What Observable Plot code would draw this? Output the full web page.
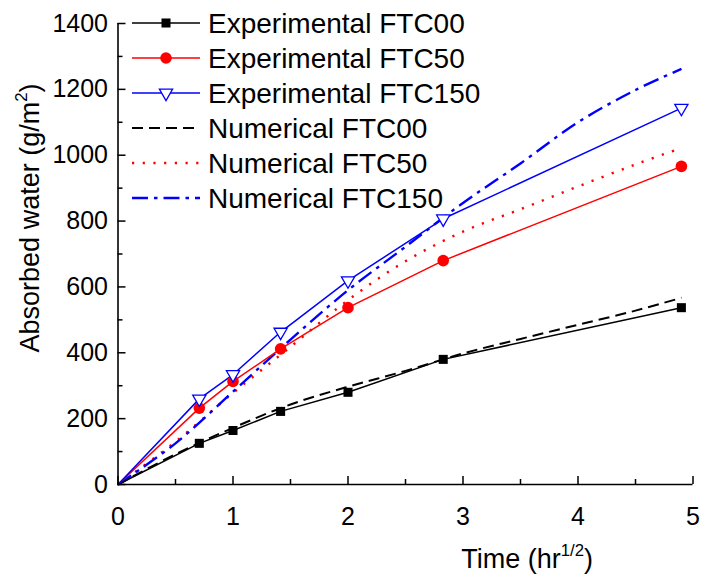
<!DOCTYPE html>
<html>
<head>
<meta charset="utf-8">
<script src="https://cdn.jsdelivr.net/npm/d3@7"></script>
<script src="https://cdn.jsdelivr.net/npm/@observablehq/plot@0.6"></script>
<style>
  body { margin: 0; background: #fff; }
  #wrap { position: relative; width: 703px; height: 580px; font-family: "Liberation Sans", Arial, sans-serif; }
  #wrap svg { display: block; }
  #legend { position: absolute; left: 0; top: 0; }
</style>
</head>
<body>
<div id="wrap"></div>
<script>
// ---- data ----
const expTime   = [0, 0.707, 1, 1.414, 2, 2.828, 4.899];
const expFTC00  = [0, 125, 164, 222, 280, 380, 537];
const expFTC50  = [0, 232, 313, 412, 537, 680, 966];
const expFTC150 = [0, 260, 334, 463, 619, 807, 1143];

const numTime   = [0, 0.5, 1, 1.5, 2, 2.5, 3, 3.5, 4, 4.5, 4.9];
const numFTC00  = [0, 92, 172, 243, 297, 345, 398, 442, 485, 528, 567];
const numFTC50  = [0, 130, 278, 418, 560, 678, 768, 836, 905, 972, 1022];
const numFTC150 = [0, 125, 282, 440, 590, 722, 855, 975, 1100, 1198, 1262];

const xTicks      = [0, 1, 2, 3, 4, 5];
const xMinorTicks = [0.5, 1.5, 2.5, 3.5, 4.5];
const yTicks      = [0, 200, 400, 600, 800, 1000, 1200, 1400];
const yMinorTicks = [100, 300, 500, 700, 900, 1100, 1300];

const seriesNames = ["Experimental FTC00", "Experimental FTC50", "Experimental FTC150",
                     "Numerical FTC00", "Numerical FTC50", "Numerical FTC150"];
const seriesColors = ["#000000", "#ff0000", "#0000ff", "#000000", "#ff0000", "#0000ff"];
const xLabel = "Time (hr1/2)";
const yLabel = "Absorbed water (g/m2)";

// ---- styles ----
const FONT = "'Liberation Sans', Arial, sans-serif";
const styles = [
  {dash: null, width: 1.5, symbol: "square", r: 5.1, fill: "#000000", stroke: "none"},
  {dash: null, width: 1.5, symbol: "circle", r: 5.8, fill: "#ff0000", stroke: "none"},
  {dash: null, width: 1.5, symbol: "triangle", r: 4.9, fill: "#ffffff", stroke: "#0000ff", rotate: 180},
  {dash: "11,6", width: 2, symbol: null},
  {dash: "2.2,8.5", width: 2.4, symbol: null},
  {dash: "16,6,3.5,6", width: 2.4, symbol: null}
];

const rows = (ts, vs) => ts.map((t, i) => ({t, v: vs[i]}));
const expSets = [rows(expTime, expFTC00), rows(expTime, expFTC50), rows(expTime, expFTC150)];
const numSets = [rows(numTime, numFTC00), rows(numTime, numFTC50), rows(numTime, numFTC150)];

const marks = [];
// numerical curves
numSets.forEach((d, i) => {
  const s = styles[i + 3];
  marks.push(Plot.line(d, {x: "t", y: "v", stroke: seriesColors[i + 3], strokeWidth: s.width,
    strokeDasharray: s.dash, strokeLinecap: "butt", curve: "catmull-rom"}));
});
// experimental lines + symbols
expSets.forEach((d, i) => {
  const s = styles[i];
  marks.push(Plot.line(d, {x: "t", y: "v", stroke: seriesColors[i], strokeWidth: s.width}));
});
expSets.forEach((d, i) => {
  const s = styles[i];
  marks.push(Plot.dot(d.filter(p => p.t > 0), {x: "t", y: "v", symbol: s.symbol, r: s.r,
    fill: s.fill, stroke: s.stroke, strokeWidth: 1.3, rotate: s.rotate || 0}));
});
// axes
marks.push(
  Plot.ruleX([0], {strokeWidth: 1.6}),
  Plot.ruleY([0], {strokeWidth: 1.6}),
  Plot.axisX(xTicks, {anchor: "bottom", tickSize: -8, fill: "none", strokeWidth: 1.5, label: null}),
  Plot.axisX(xMinorTicks, {anchor: "bottom", tickSize: -5, fill: "none", strokeWidth: 1.5, label: null}),
  Plot.axisX(xTicks, {anchor: "bottom", tickSize: 0, tickPadding: 23, fontSize: 25, label: null, tickFormat: d => String(d)}),
  Plot.axisY(yTicks, {anchor: "left", tickSize: -8, fill: "none", strokeWidth: 1.5, label: null}),
  Plot.axisY(yMinorTicks, {anchor: "left", tickSize: -5, fill: "none", strokeWidth: 1.5, label: null}),
  Plot.axisY(yTicks, {anchor: "left", tickSize: 0, tickPadding: 10, fontSize: 25, label: null, tickFormat: d => String(d)}),
  Plot.text([xLabel], {text: d => d, frameAnchor: "bottom-right", textAnchor: "end", dx: -100, dy: 83, fontSize: 27}),
  Plot.text([yLabel], {text: d => d, frameAnchor: "left", textAnchor: "middle", rotate: -90, dx: -88, dy: -36, fontSize: 27})
);

const chart = Plot.plot({
  width: 703, height: 580,
  marginLeft: 117.5, marginRight: 10.5, marginTop: 23, marginBottom: 96,
  x: {domain: [0, 5]},
  y: {domain: [0, 1400]},
  style: {fontFamily: FONT, background: "#fff", color: "#000", overflow: "visible"},
  marks
});

// superscripts in axis titles
function supify(svg, full, base, sup, tail, fs) {
  d3.select(svg).selectAll("text").filter(function () { return this.textContent === full; })
    .each(function () {
      const t = d3.select(this);
      t.text(null);
      t.append("tspan").text(base);
      t.append("tspan").attr("dy", -0.42 * fs).attr("font-size", 0.62 * fs).text(sup);
      t.append("tspan").attr("dy", 0.42 * fs).text(tail);
    });
}
supify(chart, xLabel, "Time (hr", "1/2", ")", 27);
supify(chart, yLabel, "Absorbed water (g/m", "2", ")", 27);

const wrap = document.getElementById("wrap");
wrap.appendChild(chart);

// ---- legend (top-left, inside the frame) ----
const leg = d3.select(wrap).append("svg").attr("id", "legend")
  .attr("width", 520).attr("height", 220);
const rowY0 = 23, rowStep = 35, lineX1 = 132, lineX2 = 200, textX = 208;
seriesNames.forEach((name, i) => {
  const s = styles[i];
  const y = rowY0 + i * rowStep;
  leg.append("line").attr("x1", lineX1).attr("x2", lineX2).attr("y1", y).attr("y2", y)
    .attr("stroke", seriesColors[i]).attr("stroke-width", s.width)
    .attr("stroke-dasharray", s.dash);
  if (s.symbol) {
    const area = Math.PI * s.r * s.r;
    const sym = {square: d3.symbolSquare, circle: d3.symbolCircle, triangle: d3.symbolTriangle}[s.symbol];
    leg.append("path").attr("d", d3.symbol(sym, area)())
      .attr("transform", `translate(${(lineX1 + lineX2) / 2},${y}) rotate(${s.rotate || 0})`)
      .attr("fill", s.fill).attr("stroke", s.stroke).attr("stroke-width", 1.3);
  }
  leg.append("text").attr("x", textX).attr("y", y).attr("dy", "0.36em")
    .attr("font-family", FONT).attr("font-size", 28).attr("fill", "#000").text(name);
});
</script>
</body>
</html>
